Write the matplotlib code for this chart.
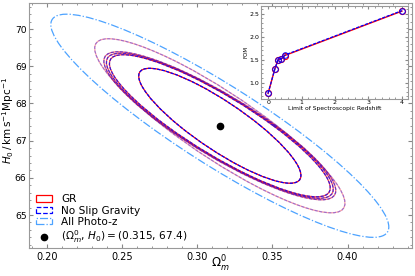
import matplotlib.pyplot as plt
import numpy as np
from matplotlib.patches import Ellipse, Patch
from matplotlib.lines import Line2D

# fiducial point
om_fid = 0.315
h0_fid = 67.4

# spectroscopic redshift limits and FOM values (inset)
z_lim = [0.0, 0.2, 0.3, 0.4, 0.5, 4.0]
fom_gr = [0.76, 1.29, 1.50, 1.52, 1.59, 2.56]
fom_ns = [0.76, 1.29, 1.50, 1.52, 1.60, 2.57]

# contour extents (half-width in Om, half-height in H0) and correlation
# ordered from z_lim = 0.2 ... 4.0 ; z_lim = 0 is the all photo-z case
ext_om = [0.0833, 0.0772, 0.0755, 0.0735, 0.0540]
ext_h0 = [2.34, 1.99, 1.95, 1.91, 1.545]
rho = [-0.89, -0.875, -0.875, -0.875, -0.865]
alphas = [0.35, 0.55, 0.65, 0.75, 1.0]

photo_ext_om = 0.1125
photo_ext_h0 = 3.0
photo_rho = -0.907


def ellipse_from(ax, sx, sy, r, **kw):
    cov = np.array([[sx**2, r*sx*sy], [r*sx*sy, sy**2]])
    vals, vecs = np.linalg.eigh(cov)
    ang = np.degrees(np.arctan2(vecs[1, 1], vecs[0, 1]))
    e = Ellipse((om_fid, h0_fid), 2*np.sqrt(vals[1]), 2*np.sqrt(vals[0]),
                angle=ang, fill=False, **kw)
    ax.add_patch(e)
    return e


fig = plt.figure(figsize=(4.15, 2.76), dpi=100)
ax = fig.add_axes([0.070, 0.101, 0.923, 0.888])

# all photo-z contour
ellipse_from(ax, photo_ext_om, photo_ext_h0, photo_rho,
             edgecolor='#4da3ff', ls='-.', lw=0.9)

for sx, sy, r, a in zip(ext_om, ext_h0, rho, alphas):
    ellipse_from(ax, sx, sy, r, edgecolor='red', ls='-', lw=0.9, alpha=a)
    ellipse_from(ax, sx, sy, r, edgecolor='blue', ls=(0, (2.5, 1.2)), lw=0.9, alpha=a)

ax.plot(om_fid, h0_fid, 'o', color='k', ms=4.5)

ax.set_xlim(0.188, 0.443)
ax.set_ylim(64.11, 70.7)
ax.set_xticks([0.20, 0.25, 0.30, 0.35, 0.40])
ax.set_yticks([65, 66, 67, 68, 69, 70])
ax.minorticks_on()
ax.tick_params(which='both', direction='in', top=True, right=True,
               color='#888888', labelsize=7)
ax.tick_params(axis='x', pad=2.5)
ax.tick_params(axis='y', pad=1.8, labelsize=6.6)
ax.tick_params(which='major', length=3)
ax.tick_params(which='minor', length=1.5)
for s in ax.spines.values():
    s.set_color('#999999')
ax.set_xlabel(r'$\Omega_m^0$', fontsize=8.5)
ax.set_ylabel(r'$H_0\,/\,\mathrm{km\,s^{-1}Mpc^{-1}}$', fontsize=7.5)
ax.xaxis.set_label_coords(0.5, -0.025)
ax.yaxis.set_label_coords(-0.035, 0.52)

handles = [
    Patch(facecolor='none', edgecolor='red', ls='-', lw=0.9),
    Patch(facecolor='none', edgecolor='blue', ls='--', lw=0.9),
    Patch(facecolor='none', edgecolor='#4da3ff', ls='-.', lw=0.9),
    Line2D([], [], marker='o', color='k', ls='none', ms=4.5),
]
labels = ['GR', 'No Slip Gravity', 'All Photo-z',
          r'$(\Omega_m^0,\,H_0) = (0.315,\,67.4)$']
ax.legend(handles, labels, loc='lower left', bbox_to_anchor=(0.01, 0.0),
          frameon=False, fontsize=7.6,
          handlelength=1.5, handleheight=0.55, borderaxespad=0.1,
          borderpad=0.2, labelspacing=0.12, handletextpad=0.9)

# inset
ins = fig.add_axes([0.629, 0.643, 0.354, 0.335])
ins.plot(z_lim, fom_gr, '-o', color='red', mfc='none', ms=4.4, lw=1.0, mew=0.8)
ins.plot(z_lim, fom_ns, '--o', color='blue', mfc='none', ms=4.0, lw=0.9,
         mew=0.7, dashes=(2.5, 1.2))
ins.set_xlim(-0.21, 4.18)
ins.set_ylim(0.65, 2.67)
ins.set_xticks([0, 1, 2, 3, 4])
ins.set_yticks([1.0, 1.5, 2.0, 2.5])
ins.minorticks_on()
ins.tick_params(which='both', direction='in', top=True, right=True,
                color='#888888', labelsize=4.5, pad=1.2)
ins.tick_params(which='major', length=2.5)
ins.tick_params(which='minor', length=1.2)
for s in ins.spines.values():
    s.set_color('#999999')
ins.set_xlabel('Limit of Spectroscopic Redshift', fontsize=4.3, labelpad=0.8)
ins.set_ylabel('FOM', fontsize=4, labelpad=1)

fig.savefig('out.png', dpi=100)
